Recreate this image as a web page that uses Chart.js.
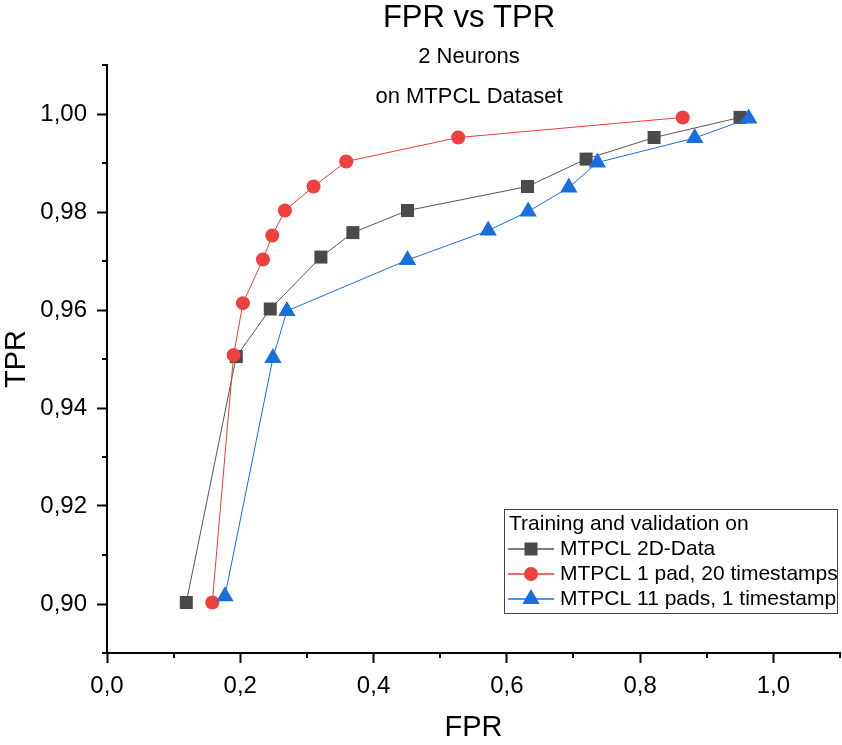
<!DOCTYPE html>
<html>
<head>
<meta charset="utf-8">
<script src="https://cdn.jsdelivr.net/npm/chart.js@4.4.0/dist/chart.umd.min.js"></script>
<style>
    html, body { margin: 0; padding: 0; background: #fff; overflow: hidden; }
    canvas { display: block; }
</style>
</head>
<body>
<canvas id="roc" width="842" height="745"></canvas>
<script>
// Werte
const fpr2D  = [0.119, 0.194, 0.245, 0.321, 0.369, 0.451, 0.631, 0.719, 0.821, 0.950];
const tpr2D  = [0.9003, 0.9505, 0.9602, 0.9708, 0.9758, 0.9803, 0.9852, 0.9908, 0.9952, 0.9993];
const fprPad = [0.158, 0.190, 0.204, 0.234, 0.248, 0.267, 0.310, 0.359, 0.527, 0.864];
const tprPad = [0.9003, 0.9508, 0.9614, 0.9703, 0.9752, 0.9803, 0.9852, 0.9903, 0.9952, 0.9993];
const fpr11  = [0.177, 0.249, 0.270, 0.451, 0.572, 0.632, 0.693, 0.736, 0.882, 0.963];
const tpr11  = [0.9016, 0.9502, 0.9598, 0.9702, 0.9762, 0.9801, 0.9850, 0.9901, 0.9951, 0.9991];

const xTicks = [0.0, 0.2, 0.4, 0.6, 0.8, 1.0];
const yTicks = [0.90, 0.92, 0.94, 0.96, 0.98, 1.00];
const xMinor = [0.1, 0.3, 0.5, 0.7, 0.9, 1.1];
const yMinor = [0.89, 0.91, 0.93, 0.95, 0.97, 0.99, 1.01];

const seriesLabels = ['MTPCL 2D-Data', 'MTPCL 1 pad, 20 timestamps', 'MTPCL 11 pads, 1 timestamp'];
const legendTitle = 'Training and validation on';
const titleLines = ['FPR vs TPR', '2 Neurons', 'on MTPCL Dataset'];

const FONT = '"Liberation Sans", Arial, sans-serif';

function toPoints(xs, ys) {
    return xs.map((x, i) => ({ x: x, y: ys[i] }));
}

function comma(v, d) {
    return v.toFixed(d).replace('.', ',');
}

// Marker zeichnen (für die Legende)
function marker(ctx, style, r, x, y, color) {
    ctx.save();
    ctx.fillStyle = color;
    ctx.beginPath();
    if (style === 'rect') {
        const s = r * Math.SQRT1_2;
        ctx.rect(x - s, y - s, 2 * s, 2 * s);
    } else if (style === 'triangle') {
        ctx.moveTo(x, y - r);
        ctx.lineTo(x + r * Math.sqrt(3) / 2, y + r / 2);
        ctx.lineTo(x - r * Math.sqrt(3) / 2, y + r / 2);
        ctx.closePath();
    } else {
        ctx.arc(x, y, r, 0, Math.PI * 2);
    }
    ctx.fill();
    ctx.restore();
}

const overlay = {
    id: 'overlay',
    afterDraw(chart) {
        const ctx = chart.ctx;
        const xs = chart.scales.x, ys = chart.scales.y;
        ctx.save();

        // Nebenstriche
        ctx.strokeStyle = '#000';
        ctx.lineWidth = 2;
        ctx.beginPath();
        xMinor.forEach(v => {
            const px = Math.round(xs.getPixelForValue(v));
            ctx.moveTo(px, ys.bottom);
            ctx.lineTo(px, ys.bottom + 5);
        });
        yMinor.forEach(v => {
            const py = Math.round(ys.getPixelForValue(v));
            ctx.moveTo(xs.left, py);
            ctx.lineTo(xs.left - 5, py);
        });
        ctx.stroke();

        // Titel
        ctx.fillStyle = '#000';
        ctx.textAlign = 'center';
        ctx.textBaseline = 'middle';
        ctx.font = '31px ' + FONT;
        ctx.fillText(titleLines[0], 469, 18);
        ctx.font = '22px ' + FONT;
        ctx.fillText(titleLines[1], 469, 57);
        ctx.fillText(titleLines[2], 469, 97);

        // Legende
        ctx.strokeStyle = '#444';
        ctx.lineWidth = 1;
        ctx.strokeRect(504.5, 509.5, 333, 104);
        ctx.textAlign = 'left';
        ctx.font = '21px ' + FONT;
        ctx.fillText(legendTitle, 509, 524);
        const rows = [549, 574, 599];
        chart.data.datasets.forEach((ds, i) => {
            const y = rows[i];
            ctx.strokeStyle = ds.borderColor;
            ctx.lineWidth = 1.5;
            ctx.beginPath();
            ctx.moveTo(508, y);
            ctx.lineTo(554, y);
            ctx.stroke();
            marker(ctx, ds.pointStyle, ds.pointRadius, 531, y, ds.pointBackgroundColor);
            ctx.fillStyle = '#000';
            ctx.fillText(ds.label, 560, y);
        });
        ctx.restore();
    }
};

const ctx = document.getElementById('roc').getContext('2d');
const chart = new Chart(ctx, {
    type: 'line',
    data: {
        datasets: [
            {
                label: seriesLabels[0],
                data: toPoints(fpr2D, tpr2D),
                borderColor: '#555555',
                pointBackgroundColor: '#4a4a4a',
                pointStyle: 'rect',
                pointRadius: 9.2,
                order: 3
            },
            {
                label: seriesLabels[1],
                data: toPoints(fprPad, tprPad),
                borderColor: '#ee3a3a',
                pointBackgroundColor: '#ef4040',
                pointStyle: 'circle',
                pointRadius: 7,
                order: 2
            },
            {
                label: seriesLabels[2],
                data: toPoints(fpr11, tpr11),
                borderColor: '#1a6fe0',
                pointBackgroundColor: '#1a6fe0',
                pointStyle: 'triangle',
                pointRadius: 10,
                order: 1
            }
        ]
    },
    options: {
        responsive: false,
        animation: false,
        datasets: {
            line: {
                borderWidth: 1,
                pointBorderWidth: 0,
                pointHoverRadius: 9,
                tension: 0,
                fill: false
            }
        },
        layout: { autoPadding: false, padding: { top: 65, right: 2, left: 0, bottom: 0 } },
        plugins: {
            legend: { display: false },
            tooltip: { enabled: false }
        },
        scales: {
            x: {
                type: 'linear',
                min: 0,
                max: 1.1,
                afterBuildTicks: s => { s.ticks = xTicks.map(v => ({ value: v })); },
                afterFit: s => { s.height = 92; s.paddingRight = 0; s.paddingLeft = 0; },
                border: { color: '#000', width: 2 },
                grid: { drawOnChartArea: false, drawTicks: true, tickLength: 10, tickColor: '#000', tickWidth: 2 },
                ticks: {
                    maxRotation: 0,
                    autoSkip: false,
                    padding: 9,
                    color: '#000',
                    font: { family: FONT, size: 24 },
                    callback: v => comma(v, 1)
                },
                title: {
                    display: true,
                    text: 'FPR',
                    color: '#000',
                    font: { family: FONT, size: 29 },
                    padding: { top: 0, bottom: 0 }
                }
            },
            y: {
                type: 'linear',
                min: 0.89,
                max: 1.01,
                afterBuildTicks: s => { s.ticks = yTicks.map(v => ({ value: v })); },
                afterFit: s => { s.width = 107; s.paddingTop = 0; s.paddingBottom = 0; },
                border: { color: '#000', width: 2 },
                grid: { drawOnChartArea: false, drawTicks: true, tickLength: 10, tickColor: '#000', tickWidth: 2 },
                ticks: {
                    autoSkip: false,
                    padding: 10,
                    color: '#000',
                    font: { family: FONT, size: 24 },
                    callback: v => comma(v, 2)
                },
                title: {
                    display: true,
                    text: 'TPR',
                    color: '#000',
                    font: { family: FONT, size: 29 },
                    padding: { top: 0, bottom: 0 }
                }
            }
        }
    },
    plugins: [overlay]
});
</script>
</body>
</html>
